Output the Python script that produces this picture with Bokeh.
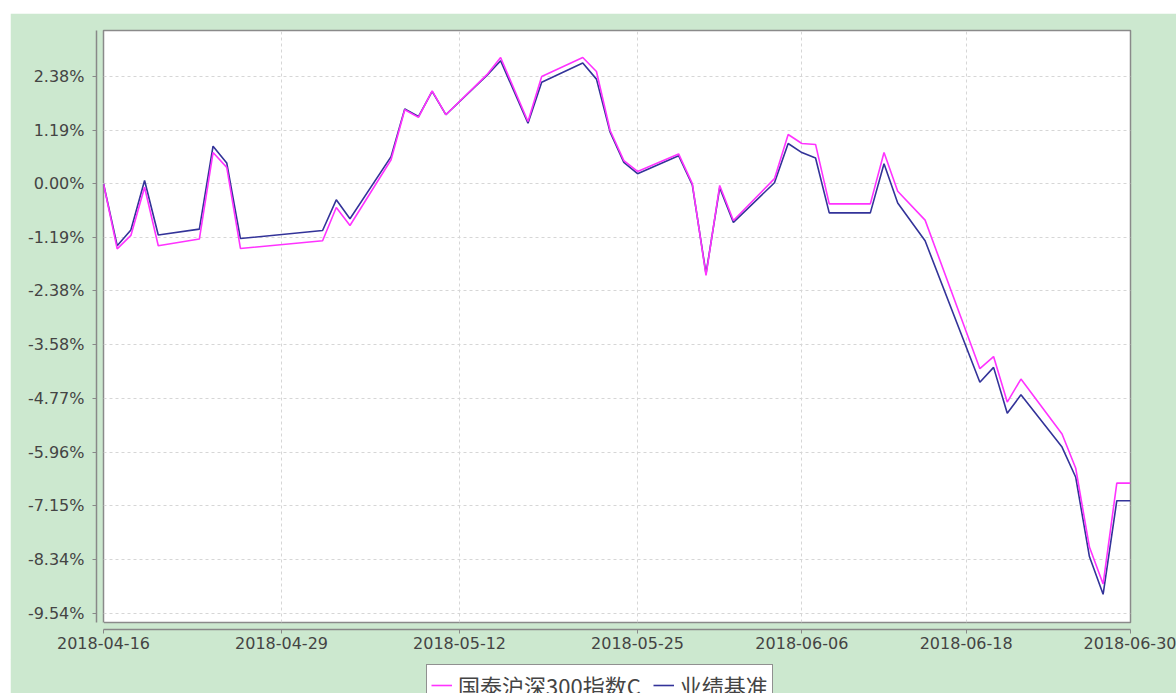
import pandas as pd
from bokeh.plotting import figure
from bokeh.layouts import column
from bokeh.models import (Range1d, LinearAxis, FixedTicker, Grid, Legend, LegendItem,
                          ColumnDataSource, PrintfTickFormatter, DatetimeTickFormatter)
from bokeh.embed import file_html
from bokeh.resources import INLINE

# ---- data ----
dates = ["2018-04-16", "2018-04-17", "2018-04-18", "2018-04-19", "2018-04-20",
         "2018-04-23", "2018-04-24", "2018-04-25", "2018-04-26",
         "2018-05-02", "2018-05-03", "2018-05-04",
         "2018-05-07", "2018-05-08", "2018-05-09", "2018-05-10", "2018-05-11",
         "2018-05-14", "2018-05-15", "2018-05-17", "2018-05-18",
         "2018-05-21", "2018-05-22", "2018-05-23", "2018-05-24", "2018-05-25",
         "2018-05-28", "2018-05-29", "2018-05-30", "2018-05-31", "2018-06-01",
         "2018-06-04", "2018-06-05", "2018-06-06", "2018-06-07", "2018-06-08",
         "2018-06-11", "2018-06-12", "2018-06-13", "2018-06-15",
         "2018-06-19", "2018-06-20", "2018-06-21", "2018-06-22",
         "2018-06-25", "2018-06-26", "2018-06-27", "2018-06-28", "2018-06-29",
         "2018-06-30"]

fund = [0.00, -1.45, -1.15, -0.08, -1.38,
        -1.23, 0.69, 0.36, -1.44,
        -1.27, -0.53, -0.93,
        0.53, 1.64, 1.47, 2.06, 1.53,
        2.42, 2.80, 1.38, 2.38,
        2.80, 2.49, 1.18, 0.51, 0.27,
        0.66, 0.00, -2.04, -0.04, -0.82,
        0.11, 1.09, 0.89, 0.87, -0.45,
        -0.45, 0.69, -0.17, -0.81,
        -4.11, -3.84, -4.85, -4.34,
        -5.56, -6.32, -8.07, -8.89, -6.65,
        -6.65]

benchmark = [0.00, -1.38, -1.03, 0.07, -1.14,
             -1.01, 0.83, 0.46, -1.22,
             -1.04, -0.36, -0.78,
             0.60, 1.66, 1.49, 2.05, 1.53,
             2.40, 2.73, 1.34, 2.25,
             2.68, 2.32, 1.14, 0.47, 0.22,
             0.62, -0.03, -2.00, -0.09, -0.86,
             0.02, 0.89, 0.69, 0.57, -0.65,
             -0.65, 0.44, -0.43, -1.27,
             -4.41, -4.08, -5.10, -4.69,
             -5.85, -6.52, -8.28, -9.12, -7.04,
             -7.04]

series_names = ["国泰沪深300指数C", "业绩基准"]
x_tick_labels = ["2018-04-16", "2018-04-29", "2018-05-12", "2018-05-25",
                 "2018-06-06", "2018-06-18", "2018-06-30"]
y_tick_values = [2.38, 1.19, 0.00, -1.19, -2.38, -3.58, -4.77, -5.96, -7.15, -8.34, -9.54]

# ---- styling ----
GREEN = "#CCE8CF"
PINK = "#FF33FF"
NAVY = "#333399"
AXIS_GRAY = "#888888"
TEXT = "#444444"
FONT = "DejaVu Sans"

src = ColumnDataSource(dict(x=pd.to_datetime(dates), fund=fund, bench=benchmark))
x_ticks_ms = [pd.Timestamp(s).value / 1e6 for s in x_tick_labels]

# ---------------- main chart ----------------
p = figure(width=1166, height=647, output_backend="svg", toolbar_location=None,
           x_axis_location=None, y_axis_location=None,
           x_range=Range1d(pd.Timestamp("2018-04-16"), pd.Timestamp("2018-06-30")),
           y_range=Range1d(-9.745, 3.40),
           min_border_left=93, min_border_right=46, min_border_top=17, min_border_bottom=38,
           border_fill_color=GREEN, background_fill_color="white",
           outline_line_color="#8a8a8a", outline_line_width=1.5)
p.center = [r for r in p.center if not isinstance(r, Grid)]


def spacer_axis(tick):
    # invisible axis (green on green) that pushes the real axis 7px away from the frame
    return LinearAxis(ticker=FixedTicker(ticks=[tick]), axis_line_color=None,
                      major_tick_out=7, major_tick_in=0, minor_tick_out=0, minor_tick_in=0,
                      major_tick_line_color=GREEN, minor_tick_line_color=None,
                      major_label_standoff=0, major_label_text_font_size="0px",
                      major_label_overrides={tick: ""})


p.add_layout(spacer_axis(0.0), "left")
p.add_layout(spacer_axis(x_ticks_ms[0]), "below")

yaxis = LinearAxis(ticker=FixedTicker(ticks=y_tick_values),
                   formatter=PrintfTickFormatter(format="%.2f%%"),
                   axis_line_color=AXIS_GRAY, axis_line_width=1.5,
                   major_tick_out=4, major_tick_in=0, major_tick_line_color=AXIS_GRAY,
                   minor_tick_line_color=None, major_label_standoff=8,
                   major_label_text_font=FONT, major_label_text_font_size="16px",
                   major_label_text_color=TEXT)
p.add_layout(yaxis, "left")

fmt = "%Y-%m-%d"
xaxis = LinearAxis(ticker=FixedTicker(ticks=x_ticks_ms),
                   formatter=DatetimeTickFormatter(days=fmt, months=fmt, years=fmt,
                                                   hours=fmt, minutes=fmt, seconds=fmt,
                                                   milliseconds=fmt, microseconds=fmt,
                                                   hourmin=fmt, minsec=fmt),
                   axis_line_color=AXIS_GRAY, axis_line_width=1.5,
                   major_tick_out=4, major_tick_in=0, major_tick_line_color=AXIS_GRAY,
                   minor_tick_line_color=None, major_label_standoff=3,
                   major_label_text_font=FONT, major_label_text_font_size="16px",
                   major_label_text_color=TEXT)
p.add_layout(xaxis, "below")

p.add_layout(Grid(dimension=0, ticker=FixedTicker(ticks=x_ticks_ms),
                  grid_line_color="#d6d6d6", grid_line_dash="3 3", grid_line_width=1))
p.add_layout(Grid(dimension=1, ticker=FixedTicker(ticks=y_tick_values),
                  grid_line_color="#d6d6d6", grid_line_dash="3 3", grid_line_width=1))

p.line("x", "bench", source=src, line_color=NAVY, line_width=1.6)
p.line("x", "fund", source=src, line_color=PINK, line_width=1.6)

# ---------------- legend strip (bottom, cut off like the reference) ----------------
# its ranges keep the series out of view, so only the legend shows
leg = figure(width=1166, height=34, output_backend="svg", toolbar_location=None,
             x_axis_location=None, y_axis_location=None,
             x_range=Range1d(0, 1), y_range=Range1d(0, 1),
             min_border_left=93, min_border_right=46, min_border_top=3, min_border_bottom=0,
             border_fill_color=GREEN, background_fill_color=GREEN,
             outline_line_color=GREEN, outline_line_width=2.5,
             margin=(-1, 0, 0, 0))
leg.center = [r for r in leg.center if not isinstance(r, Grid)]
lf = leg.line("x", "fund", source=src, line_color=PINK, line_width=1.6)
lb = leg.line("x", "bench", source=src, line_color=NAVY, line_width=1.6)

legend = Legend(items=[LegendItem(label=series_names[0], renderers=[lf]),
                       LegendItem(label=series_names[1], renderers=[lb])],
                orientation="horizontal", location=(323, -13),
                label_text_font="Noto Sans CJK SC", label_text_font_size="22px",
                label_text_color=TEXT, border_line_color="#222222", border_line_width=1.5,
                background_fill_color="white", background_fill_alpha=1.0,
                padding=4, spacing=12, glyph_width=21, label_standoff=6, margin=0)
leg.add_layout(legend)

layout = column(p, leg, spacing=0, margin=(13, 0, 0, 10))

open("out.html", "w").write(file_html(layout, INLINE))
